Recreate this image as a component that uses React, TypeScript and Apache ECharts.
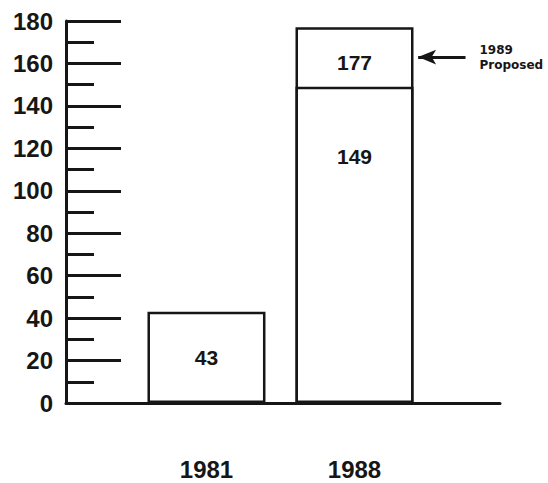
import React, { useEffect, useRef } from "react";
import * as echarts from "echarts";

// Years on the horizontal axis, placed at positions 0 and 1
const years = ["1981", "1988"];
// Actual counts per year
const actual = [43, 149];
// Proposed level for 1989, drawn above the 1988 bar
const proposed = [null, 177];
const proposedNote = "1989\nProposed";
// Vertical axis range
const yMin = 0;
const yMax = 180;
const yStep = 20;

const INK = "#161616";
const FONT = "'Liberation Sans', Arial, sans-serif";

export default function App() {
  const ref = useRef<HTMLDivElement>(null);

  useEffect(() => {
    if (!ref.current) return;
    const chart = echarts.init(ref.current, null, { renderer: "svg" });

    const actualData = actual.map((v, i) => ({
      value: [i, v],
      label:
        i === 0
          ? { position: "inside" }
          : { position: "insideTop", distance: 59 },
    }));
    const proposedData = proposed
      .map((v, i) => (v == null ? null : { value: [i, v] }))
      .filter((d) => d != null);

    chart.setOption({
      animation: false,
      backgroundColor: "#ffffff",
      grid: { left: 66, right: 48, top: 21, bottom: 80 },
      xAxis: {
        type: "value",
        min: -0.949,
        max: 1.983,
        splitLine: { show: false },
        axisTick: { show: false },
        axisLine: { show: true, onZero: false, lineStyle: { color: INK, width: 3 } },
        axisLabel: {
          customValues: [0, 1],
          formatter: (v: number) => years[Math.round(v)] ?? "",
          margin: 54,
          color: INK,
          fontFamily: FONT,
          fontWeight: "bold",
          fontSize: 24,
          lineHeight: 24,
        },
      },
      yAxis: {
        type: "value",
        min: yMin,
        max: yMax,
        interval: yStep,
        splitLine: { show: false },
        axisLine: { show: true, onZero: false, lineStyle: { color: INK, width: 3 } },
        axisTick: {
          show: true,
          inside: true,
          length: 55,
          lineStyle: { color: INK, width: 3 },
        },
        minorTick: {
          show: true,
          splitNumber: 2,
          length: 28,
          lineStyle: { color: INK, width: 3 },
        },
        axisLabel: {
          margin: 13,
          color: INK,
          fontFamily: FONT,
          fontWeight: "bold",
          fontSize: 24,
        },
      },
      series: [
        {
          name: "Proposed",
          type: "bar",
          barWidth: 118,
          barGap: "-100%",
          data: proposedData,
          itemStyle: { color: "#ffffff", borderColor: INK, borderWidth: 2.5 },
          label: {
            show: true,
            position: "insideTop",
            distance: 25,
            formatter: (p: any) => String(p.value[1]),
            color: INK,
            fontFamily: FONT,
            fontWeight: "bold",
            fontSize: 21,
          },
          markLine: {
            silent: true,
            symbol: ["arrow", "none"],
            symbolSize: [11, 18],
            lineStyle: { color: INK, width: 3, type: "solid" },
            label: {
              show: true,
              position: "end",
              distance: 14,
              formatter: proposedNote,
              align: "left",
              color: INK,
              fontFamily: "'DejaVu Sans', sans-serif",
              fontWeight: "bold",
              fontSize: 12,
              lineHeight: 15,
            },
            data: [
              [
                { coord: [1.43, 163] },
                { coord: [1.75, 163] },
              ],
            ],
          },
        },
        {
          name: "Actual",
          type: "bar",
          barWidth: 118,
          barGap: "-100%",
          data: actualData,
          itemStyle: { color: "#ffffff", borderColor: INK, borderWidth: 2.5 },
          label: {
            show: true,
            formatter: (p: any) => String(p.value[1]),
            color: INK,
            fontFamily: FONT,
            fontWeight: "bold",
            fontSize: 21,
          },
        },
      ],
    });

    return () => chart.dispose();
  }, []);

  return (
    <div
      ref={ref}
      style={{ position: "fixed", left: 0, top: 0, width: 548, height: 483 }}
    />
  );
}
